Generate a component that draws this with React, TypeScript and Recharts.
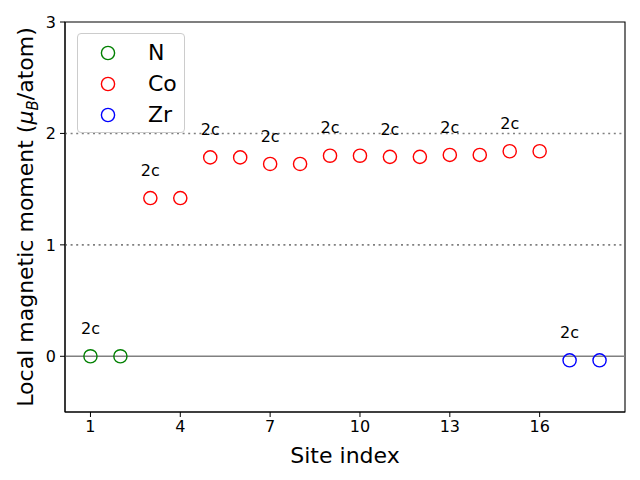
import React from 'react';
import {
  ScatterChart,
  Scatter,
  XAxis,
  YAxis,
  ReferenceLine,
  ReferenceArea,
  Legend,
} from 'recharts';

const FONT = '"DejaVu Sans", sans-serif';

// ---- data ----
const nSites = [1, 2];
const nMoments = [0.0, 0.0];
const coSites = [3, 4, 5, 6, 7, 8, 9, 10, 11, 12, 13, 14, 15, 16];
const coMoments = [1.42, 1.42, 1.785, 1.785, 1.726, 1.726, 1.8, 1.8, 1.79, 1.79, 1.807, 1.807, 1.84, 1.84];
const zrSites = [17, 18];
const zrMoments = [-0.036, -0.036];

const labelSites = [1, 3, 5, 7, 9, 11, 13, 15, 17];
const labelTexts = ['2c', '2c', '2c', '2c', '2c', '2c', '2c', '2c', '2c'];
const LABEL_OFFSET = 0.2;

const xTicks = [1, 4, 7, 10, 13, 16];
const yTicks = [0, 1, 2, 3];
const xDomain = [0.15, 18.85];
const yDomain = [-0.5, 3];

const seriesNames = ['N', 'Co', 'Zr'];
const seriesColors = ['#008000', '#ff0000', '#0000ff'];

const zip = (xs: number[], ys: number[]) => xs.map((x, i) => ({ x, y: ys[i] }));
const nData = zip(nSites, nMoments);
const coData = zip(coSites, coMoments);
const zrData = zip(zrSites, zrMoments);
const allData = [...nData, ...coData, ...zrData];
const labelData = labelSites.map((s, i) => {
  const p = allData.find((d) => d.x === s);
  return { x: s, y: (p ? p.y : 0) + LABEL_OFFSET, text: labelTexts[i] };
});

const seriesData = [nData, coData, zrData];

const circleShape = (color: string) => (props: any) => (
  <circle cx={props.cx} cy={props.cy} r={6.6} fill="none" stroke={color} strokeWidth={1.4} />
);

const labelShape = (props: any) => (
  <text
    x={props.cx}
    y={props.cy}
    textAnchor="middle"
    fontSize={16}
    fontFamily={FONT}
    fill="#000"
  >
    {props.payload?.text}
  </text>
);

const LegendBox = () => (
  <div
    style={{
      boxSizing: 'border-box',
      width: 108,
      height: 100,
      border: '1px solid #cccccc',
      borderRadius: 4,
      background: 'rgba(255,255,255,0.8)',
      paddingTop: 3,
      fontFamily: FONT,
    }}
  >
    {seriesNames.map((name, i) => (
      <div key={name} style={{ height: 31, display: 'flex', alignItems: 'center' }}>
        <svg width={16} height={16} style={{ marginLeft: 22 }}>
          <circle cx={8} cy={8} r={6.6} fill="none" stroke={seriesColors[i]} strokeWidth={1.4} />
        </svg>
        <span style={{ marginLeft: 32, fontSize: 22, color: '#000', lineHeight: '31px' }}>{name}</span>
      </div>
    ))}
  </div>
);

const XLabel = (props: any) => {
  const vb = props.viewBox || { x: 65, y: 412, width: 560, height: 68 };
  return (
    <text x={vb.x + vb.width / 2} y={vb.y + 51} textAnchor="middle" fontSize={22} fontFamily={FONT} fill="#000">
      Site index
    </text>
  );
};

const YLabel = (props: any) => {
  const vb = props.viewBox || { x: 0, y: 22, width: 65, height: 390 };
  const cx = 33;
  const cy = vb.y + vb.height / 2;
  return (
    <text
      x={cx}
      y={cy}
      transform={`rotate(-90, ${cx}, ${cy})`}
      textAnchor="middle"
      fontSize={22}
      fontFamily={FONT}
      fill="#000"
    >
      Local magnetic moment (
      <tspan fontStyle="italic">μ</tspan>
      <tspan fontStyle="italic" fontSize={15} dy={5}>B</tspan>
      <tspan dy={-5}>/atom)</tspan>
    </text>
  );
};

export default function App() {
  return (
    <div style={{ position: 'absolute', left: 0, top: 0, width: 640, height: 480, background: '#fff' }}>
      <ScatterChart width={640} height={480} margin={{ top: 22, right: 15, bottom: 0, left: 0 }}>
        <XAxis
          type="number"
          dataKey="x"
          domain={xDomain}
          ticks={xTicks}
          allowDataOverflow
          height={68}
          tickSize={5}
          tickMargin={4}
          stroke="#000"
          tick={{ fill: '#000', fontSize: 16, fontFamily: FONT }}
          label={{ content: XLabel }}
        />
        <YAxis
          type="number"
          dataKey="y"
          domain={yDomain}
          ticks={yTicks}
          allowDataOverflow
          width={65}
          tickSize={5}
          tickMargin={4}
          stroke="#000"
          tick={{ fill: '#000', fontSize: 16, fontFamily: FONT }}
          label={{ content: YLabel }}
        />
        <ReferenceLine y={0} stroke="#808080" strokeWidth={1.6} />
        <ReferenceLine y={1} stroke="#808080" strokeWidth={1.6} strokeDasharray="2 3.6" />
        <ReferenceLine y={2} stroke="#808080" strokeWidth={1.6} strokeDasharray="2 3.6" />
        <ReferenceArea
          x1={xDomain[0]}
          x2={xDomain[1]}
          y1={yDomain[0]}
          y2={yDomain[1]}
          fill="none"
          fillOpacity={0}
          stroke="#000"
          strokeWidth={1.1}
          ifOverflow="visible"
        />
        {seriesNames.map((name, i) => (
          <Scatter
            key={name}
            name={name}
            data={seriesData[i]}
            fill={seriesColors[i]}
            shape={circleShape(seriesColors[i])}
            isAnimationActive={false}
          />
        ))}
        <Scatter
          name="labels"
          data={labelData}
          legendType="none"
          shape={labelShape}
          isAnimationActive={false}
        />
        <Legend
          layout="vertical"
          align="center"
          verticalAlign="middle"
          content={LegendBox}
          wrapperStyle={{ left: 77, top: 33, width: 108, height: 100 }}
        />
      </ScatterChart>
    </div>
  );
}
